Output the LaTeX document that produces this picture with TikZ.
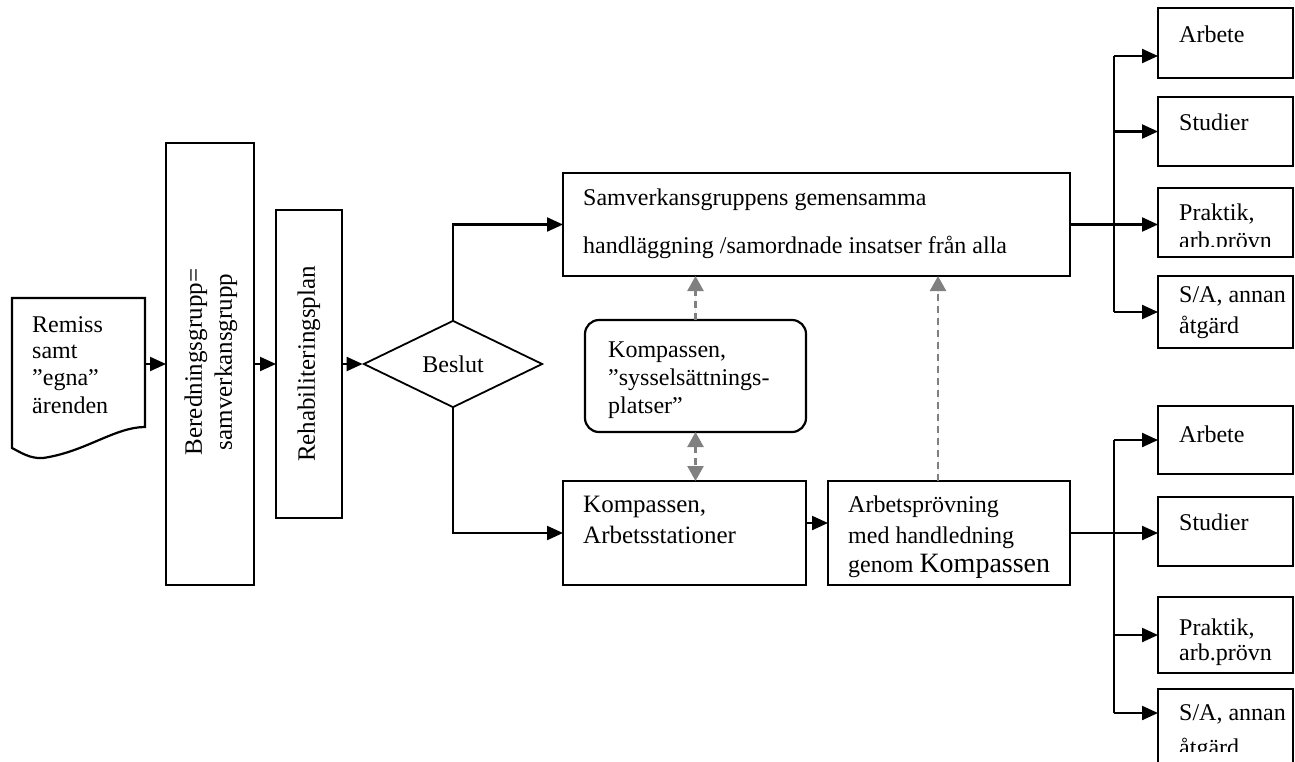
\documentclass[tikz,border=0pt]{standalone}
\usepackage{fontspec}
\setmainfont{Liberation Serif}
\usetikzlibrary{arrows.meta,shapes.geometric}
\begin{document}
\begin{tikzpicture}[x=1pt,y=-1pt,
  box/.style={draw, line width=2.2pt, inner sep=0pt, outer sep=0pt},
  txt/.style={anchor=base west, inner sep=0pt, font=\fontsize{24}{27}\selectfont},
  ln/.style={line width=2.2pt},
  arr/.style={line width=2.2pt, -{Triangle[length=16pt,width=14pt]}},
  garr/.style={line width=2.4pt, draw=gray, fill=gray, dash pattern=on 7pt off 5pt, -{Triangle[length=15pt,width=16pt]}},
  garrb/.style={line width=2.4pt, draw=gray, dash pattern=on 7pt off 5pt, {Triangle[length=15pt,width=16pt]}-{Triangle[length=15pt,width=16pt]}}]
\useasboundingbox (0,0) rectangle (1295,761);
\clip (0,0) rectangle (1295,761);

% document shape
\node[inner sep=0pt, minimum width=133pt, minimum height=165pt] (doc) at (78.5,380) {};
\draw[ln] (12,298) -- (145,298) -- (145,427)
  .. controls (115,427) and (85,452) .. (43,458)
  .. controls (30,459) and (20,452) .. (12,448) -- cycle;
\node[txt] (rem1) at (32,332) {Remiss};
\node[txt] (rem2) at (32,358) {samt};
\node[txt] (rem3) at (32,385) {”egna”};
\node[txt] (rem4) at (32,413) {ärenden};

% vertical boxes
\node[box, minimum width=88pt, minimum height=442pt] (bered) at (210,364) {};
\node[rotate=90, align=center, inner sep=0pt, font=\fontsize{25}{30}\selectfont] (beredt) at (211,362) {Beredningsgrupp=\\samverkansgrupp};
\node[box, minimum width=66pt, minimum height=308pt] (rehab) at (309,364) {};
\node[rotate=90, inner sep=0pt, font=\fontsize{25}{27}\selectfont] (rehabt) at (309,364) {Rehabiliteringsplan};

% decision
\node[draw, line width=1.8pt, diamond, aspect=2.06, minimum width=179pt, minimum height=87pt, inner sep=0pt, font=\fontsize{24}{27}\selectfont] (dec) at (453,364) {Beslut};

% top box
\node[box, minimum width=507pt, minimum height=103pt] (top) at (816.5,224.5) {};
\node[txt] (top1) at (583,205) {Samverkansgruppens gemensamma};
\node[txt] (top2) at (583,253) {handläggning /samordnade insatser från alla};

% rounded box
\node[box, rounded corners=14pt, minimum width=221pt, minimum height=112pt] (rbox) at (695.5,376) {};
\node[txt] (rb1) at (608,357) {Kompassen,};
\node[txt] (rb2) at (608,385) {”sysselsättnings-};
\node[txt] (rb3) at (608,413) {platser”};

% bottom middle boxes
\node[box, minimum width=243pt, minimum height=104pt] (komp) at (684.5,533) {};
\node[txt, font=\fontsize{25}{27}\selectfont] (kp1) at (583,512) {Kompassen,};
\node[txt, font=\fontsize{25}{27}\selectfont] (kp2) at (583,543) {Arbetsstationer};
\node[box, minimum width=242pt, minimum height=104pt] (arb) at (949,533) {};
\node[txt] (ab1) at (848,512) {Arbetsprövning};
\node[txt] (ab2) at (848,543) {med handledning};
\node[txt] (ab3) at (848,572) {genom {\fontsize{28}{30}\selectfont Kompassen}};

% right boxes, top group
\node[box, minimum width=135pt, minimum height=70pt] (tr1) at (1225.5,43) {};
\node[box, minimum width=135pt, minimum height=69pt] (tr2) at (1225.5,131.5) {};
\node[box, minimum width=135pt, minimum height=69pt] (tr3) at (1225.5,222.5) {};
\node[box, minimum width=135pt, minimum height=72pt] (tr4) at (1225.5,312) {};
\node[txt] (tt1) at (1179,42) {Arbete};
\node[txt] (tt2) at (1179,130) {Studier};
\node[txt] (tt3) at (1179,220) {Praktik,};
\begin{scope}
  \clip (1160,190) rectangle (1290,246);
  \node[txt] (tt4) at (1179,248) {arb.prövn};
\end{scope}
\node[txt] (tt5) at (1179,302) {S/A, annan};
\node[txt] (tt6) at (1179,333) {åtgärd};

% right boxes, bottom group
\node[box, minimum width=135pt, minimum height=68pt] (br1) at (1225.5,440) {};
\node[box, minimum width=135pt, minimum height=69pt] (br2) at (1225.5,531.5) {};
\node[box, minimum width=135pt, minimum height=76pt] (br3) at (1225.5,635) {};
\node[box, minimum width=135pt, minimum height=86pt] (br4) at (1225.5,732) {};
\node[txt] (bt1) at (1179,442) {Arbete};
\node[txt] (bt2) at (1179,530) {Studier};
\node[txt] (bt3) at (1179,635) {Praktik,};
\node[txt] (bt4) at (1179,660) {arb.prövn};
\node[txt] (bt5) at (1179,720) {S/A, annan};
\begin{scope}
  \clip (1160,690) rectangle (1290,751);
  \node[txt] (bt6) at (1179,755) {åtgärd};
\end{scope}

% main flow connectors
\draw[arr] (doc.east |- bered.west) -- (bered.west);
\draw[arr] (bered.east) -- (rehab.west);
\draw[arr] (rehab.east) -- (dec.west);
\draw[arr] (dec.north) |- (top.west);
\draw[arr] (dec.south) |- (komp.west);
\draw[arr] ([yshift=10pt]komp.east) -- ([yshift=10pt]arb.west);

% gray dashed connectors
\draw[garr] (rbox.north) -- (rbox.north |- top.south);
\draw[garrb] (rbox.south) -- (rbox.south |- komp.north);
\coordinate (ag) at ([xshift=-11pt]arb.north);
\draw[garr] (ag) -- (ag |- top.south);

% fan-out top
\coordinate (jx) at (1114,0);
\coordinate (a1) at ([yshift=-13pt]tr1.west);
\draw[arr] (top.east) -- (top.east -| tr3.west);
\draw[ln] (a1 -| jx) -- (tr4.west -| jx);
\draw[arr] (a1 -| jx) -- (a1);
\draw[arr] (tr2.west -| jx) -- (tr2.west);
\draw[arr] (tr4.west -| jx) -- (tr4.west);

% fan-out bottom
\coordinate (a4) at ([yshift=19pt]br4.west);
\draw[arr] (arb.east) -- (arb.east -| br2.west);
\draw[ln] (br1.west -| jx) -- (a4 -| jx);
\draw[arr] (br1.west -| jx) -- (br1.west);
\draw[arr] (br3.west -| jx) -- (br3.west);
\draw[arr] (a4 -| jx) -- (a4);
\end{tikzpicture}
\end{document}
